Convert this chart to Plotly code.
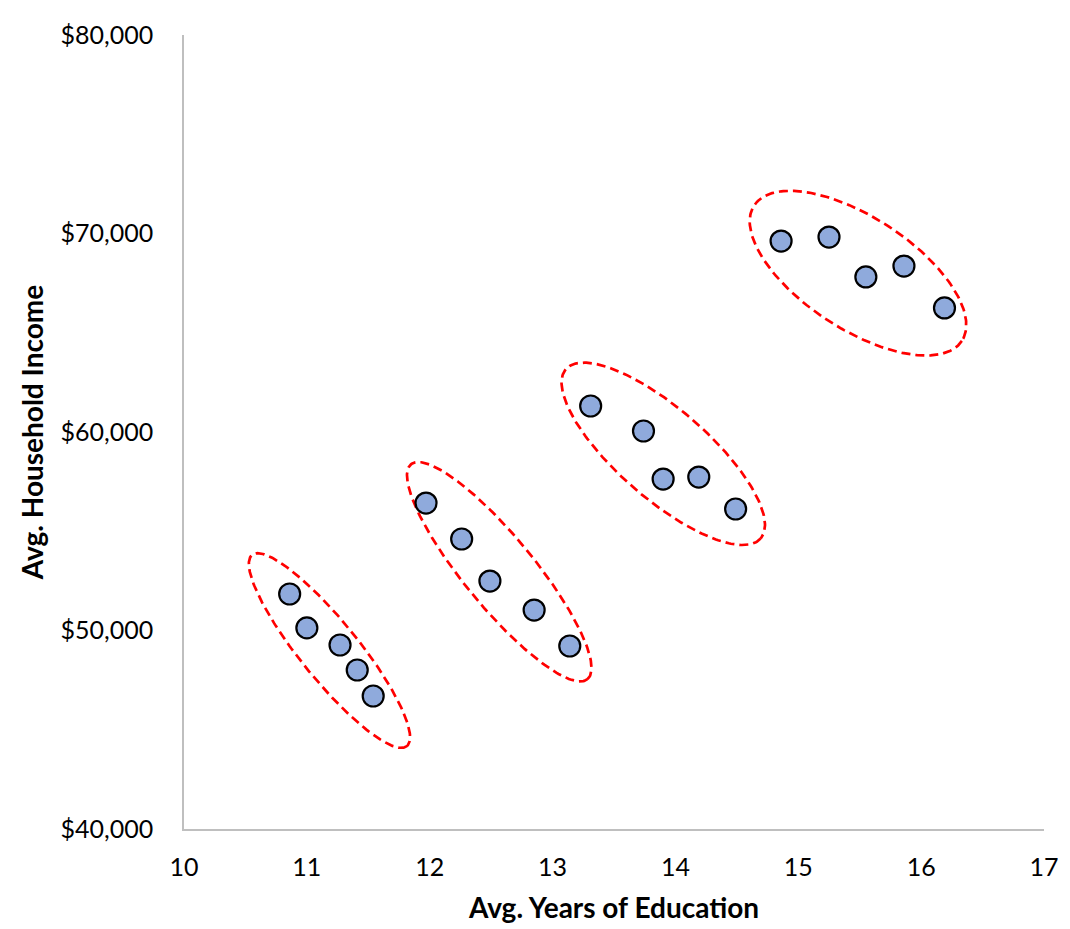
import numpy as np
import plotly.graph_objects as go

# Avg. years of education / avg. household income, four clusters
years = [10.86, 11.00, 11.27, 11.41, 11.54,
         11.97, 12.26, 12.49, 12.85, 13.14,
         13.31, 13.74, 13.90, 14.19, 14.49,
         14.86, 15.25, 15.55, 15.86, 16.19]
income = [51840, 50130, 49270, 48010, 46700,
          56420, 54610, 52490, 51030, 49220,
          61310, 60050, 57630, 57730, 56120,
          69620, 69820, 67810, 68360, 66250]

# dashed rings around each cluster: centre (data), semi-axes (px), tilt (deg)
ring_x = [11.184, 12.566, 13.901, 15.486]
ring_y = [48990, 52960, 58900, 68000]
ring_a = [123, 139, 129, 124]
ring_b = [29, 35, 45, 56]
ring_tilt = [51, 50.6, 41, 33.1]

W, H = 1070, 929
# page body has an 8px margin, so pull the plot area back by 8
L, R, T, B = 176, 34, 27, 108
x_rng = [10, 17]
y_rng = [40000, 80000]
px_x = (W - L - R) / (x_rng[1] - x_rng[0])
px_y = (H - T - B) / (y_rng[1] - y_rng[0])

fig = go.Figure()

t = np.linspace(0, 2 * np.pi, 241)
for cx, cy, a, b, ang in zip(ring_x, ring_y, ring_a, ring_b, ring_tilt):
    th = np.radians(ang)
    u, v = a * np.cos(t), b * np.sin(t)
    dx = u * np.cos(th) - v * np.sin(th)
    dy = u * np.sin(th) + v * np.cos(th)
    fig.add_trace(go.Scatter(x=cx + dx / px_x, y=cy - dy / px_y, mode="lines",
                             line=dict(color="#FF0000", width=2.7, dash="9px,5px"),
                             hoverinfo="skip", showlegend=False))

fig.add_trace(go.Scatter(x=years, y=income, mode="markers", showlegend=False,
                         marker=dict(size=21, color="#8FAADC",
                                     line=dict(color="black", width=2.2))))

fig.update_layout(
    width=W, height=H,
    margin=dict(l=L, r=R, t=T, b=B),
    plot_bgcolor="white", paper_bgcolor="white",
    font=dict(family="Lato", size=25, color="black"),
)
fig.update_xaxes(range=x_rng, dtick=1, showgrid=False, zeroline=False,
                 showline=True, linecolor="#BFBFBF", linewidth=1.5,
                 ticks="", ticklabelstandoff=15,
                 title=dict(text="<b>Avg. Years of Education</b>", standoff=19,
                            font=dict(size=28)))
fig.update_yaxes(range=y_rng, dtick=10000, showgrid=False, zeroline=False,
                 showline=True, linecolor="#BFBFBF", linewidth=1.5,
                 ticks="", ticklabelstandoff=24, tickprefix="$", tickformat=",d",
                 title=dict(text="<b>Avg. Household Income</b>", standoff=9,
                            font=dict(size=28)))

fig.write_html("out.html")
